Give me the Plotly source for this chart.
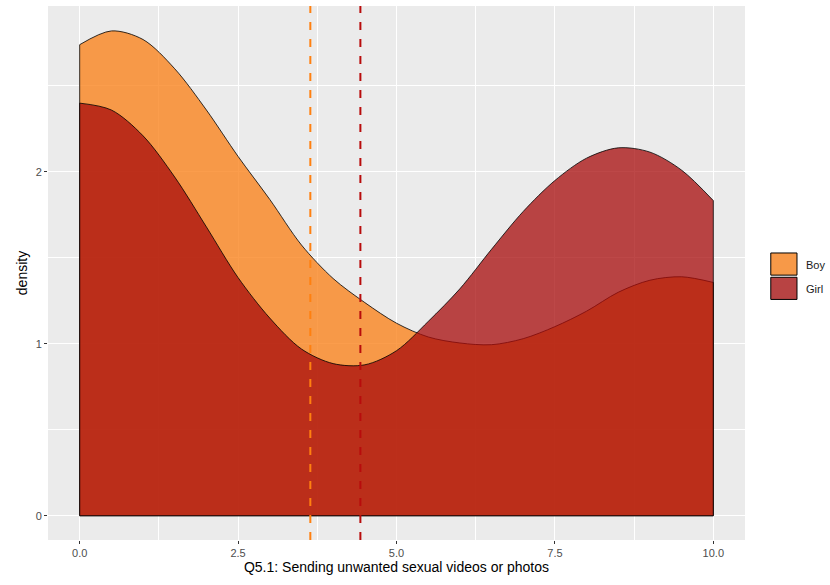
import plotly.graph_objects as go

# density estimates (Q5.1 score 0-10)
score = [0.0, 0.5, 1.0, 1.5, 2.0, 2.5, 3.0, 3.5, 4.0, 4.5, 5.0,
         5.5, 6.0, 6.5, 7.0, 7.5, 8.0, 8.5, 9.0, 9.5, 10.0]
boy_density = [2.74, 2.82, 2.77, 2.60, 2.36, 2.09, 1.84, 1.575, 1.38, 1.24, 1.12,
               1.04, 1.005, 0.995, 1.03, 1.10, 1.19, 1.30, 1.37, 1.39, 1.357]
girl_density = [2.40, 2.36, 2.21, 1.97, 1.68, 1.385, 1.15, 0.97, 0.885, 0.878, 0.96,
                1.13, 1.32, 1.55, 1.77, 1.95, 2.08, 2.14, 2.115, 2.01, 1.833]
boy_mean = 3.64
girl_mean = 4.43

x_ticks = [0, 2.5, 5, 7.5, 10]
x_labels = ["0.0", "2.5", "5.0", "7.5", "10.0"]
y_ticks = [0, 1, 2]

groups = [
    ("Boy", boy_density, "rgba(250,132,31,0.8)", "#FF8010", boy_mean),
    ("Girl", girl_density, "rgba(167,11,11,0.75)", "#B80C0C", girl_mean),
]

fig = go.Figure()
for name, dens, fill, line_col, mean in groups:
    # area under the density curve
    fig.add_trace(go.Scatter(
        x=score, y=dens, name=name, mode="lines", fill="tozeroy",
        fillcolor=fill, line=dict(color="black", width=0.8, shape="spline", smoothing=0.9),
        hoverinfo="x+y+name", showlegend=False,
    ))
    # the vertical ends and base of the area outline
    fig.add_trace(go.Scatter(
        x=[score[0], score[0], score[-1], score[-1]],
        y=[dens[0], 0, 0, dens[-1]],
        mode="lines", line=dict(color="black", width=0.8),
        showlegend=False, hoverinfo="skip",
    ))

for name, dens, fill, line_col, mean in groups:
    fig.add_vline(x=mean, line=dict(color=line_col, width=2, dash="8px,9px"))

# legend keys drawn like ggplot's (stacked squares beside the panel)
key_top = 0.5375
key_h = 0.0455
for i, (name, dens, fill, line_col, mean) in enumerate(groups):
    y1 = key_top - i * key_h
    fig.add_shape(type="rect", xref="paper", yref="paper",
                  x0=1.037, x1=1.0746, y0=y1 - key_h + 0.004, y1=y1,
                  fillcolor="#EBEBEB", line=dict(width=0))
    fig.add_shape(type="rect", xref="paper", yref="paper",
                  x0=1.037, x1=1.0746, y0=y1 - key_h + 0.004, y1=y1,
                  fillcolor=fill, line=dict(color="black", width=1))
    fig.add_annotation(text=name, xref="paper", yref="paper",
                       x=1.085, y=y1 - key_h / 2, xanchor="left", yanchor="middle",
                       showarrow=False, font=dict(size=11, color="#1A1A1A"))

fig.update_layout(
    width=830, height=585,
    margin=dict(l=48, r=85, t=6, b=45),
    paper_bgcolor="white", plot_bgcolor="#EBEBEB",
    font=dict(family="Liberation Sans, Arial, sans-serif", size=11, color="#4D4D4D"),
    showlegend=False,
)
fig.update_xaxes(
    range=[-0.5, 10.5], tickvals=x_ticks, ticktext=x_labels, automargin=False,
    showgrid=True, gridcolor="white", gridwidth=1.1, zeroline=False,
    ticks="outside", ticklen=3, tickcolor="#333333",
    minor=dict(dtick=2.5, tick0=1.25, showgrid=True, gridcolor="white", gridwidth=0.5),
    title=dict(text="Q5.1: Sending unwanted sexual videos or photos",
               font=dict(size=14, color="black"), standoff=2),
)
fig.update_yaxes(
    range=[-0.141, 2.965], tickvals=y_ticks, automargin=False,
    showgrid=True, gridcolor="white", gridwidth=1.1, zeroline=False,
    ticks="outside", ticklen=3, tickcolor="#333333",
    minor=dict(dtick=1, tick0=0.5, showgrid=True, gridcolor="white", gridwidth=0.5),
    title=dict(text="density", font=dict(size=14, color="black"), standoff=4),
)

fig.write_html("out.html", config={"displayModeBar": False},
               post_script="document.body.style.margin='0';")
